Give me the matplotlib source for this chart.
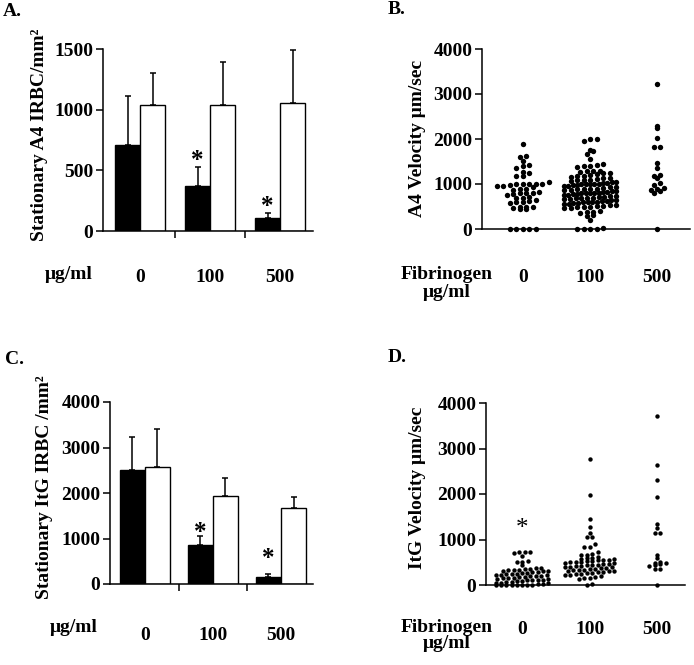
import matplotlib
matplotlib.use('Agg')
import matplotlib.pyplot as plt
import matplotlib.transforms as mtransforms
import numpy as np

plt.rcParams['font.family'] = ['Liberation Serif', 'DejaVu Serif']
plt.rcParams['font.weight'] = 'bold'
plt.rcParams['axes.linewidth'] = 1.1
FS = 14

conc_labels = ['0', '100', '500']

# Panel A: stationary A4 IRBC/mm^2 (black / white bars, upper SEM)
a_black = [705, 375, 110]
a_black_err = [410, 150, 40]
a_white = [1040, 1040, 1055]
a_white_err = [265, 350, 440]
a_star_y = [None, 617, 241]

# Panel C: stationary ItG IRBC/mm^2
c_black = [2500, 850, 160]
c_black_err = [730, 210, 70]
c_white = [2580, 1930, 1680]
c_white_err = [820, 400, 240]
c_star_y = [None, 1230, 650]

# Panel B: A4 velocity (um/sec), fibrinogen 0 / 100 / 500
b_v0 = [1900, 1620, 1610, 1510, 1420, 1410, 1350, 1270, 1250, 1180, 1170,
        1050, 1010, 1000, 1000, 990, 990, 980, 960, 950, 930, 900, 880, 860,
        820, 800, 800, 790, 770, 760, 720, 700, 690, 650, 620, 600, 590, 580,
        500, 490, 480, 470, 450, 440, 0, 0, 0, 0, 0]
b_v100 = [2000, 1990, 1960, 1760, 1740, 1670, 1560, 1440, 1430, 1400, 1390,
          1370, 1300, 1290, 1280, 1270, 1250, 1240, 1230, 1200, 1180, 1170,
          1160, 1140, 1130, 1120, 1100, 1090, 1080, 1060, 1050, 1040, 1030,
          1020, 1010, 1000, 1000, 1000, 990, 980, 970, 960, 950, 940, 930, 920,
          900, 900, 890, 880, 870, 860, 850, 840, 830, 820, 810, 800, 800, 800,
          790, 780, 770, 760, 750, 740, 730, 720, 710, 700, 700, 690, 680, 670,
          660, 650, 640, 630, 620, 610, 600, 600, 590, 580, 570, 560, 550, 540,
          530, 520, 510, 500, 490, 480, 470, 460, 390, 380, 370, 360, 310, 300,
          200, 30, 0, 0, 0, 0]
b_v500 = [3220, 2290, 2250, 2030, 1830, 1820, 1460, 1360, 1190, 1170, 1130,
          1020, 980, 920, 900, 870, 850, 800, 0]

# Panel D: ItG velocity (um/sec)
d_v0 = [730, 720, 720, 710, 630, 520, 510, 500, 430, 380, 370, 360, 350, 340,
        330, 320, 310, 300, 300, 290, 280, 270, 260, 250, 250, 240, 230, 220,
        210, 200, 200, 190, 180, 170, 160, 150, 150, 140, 130, 120, 110, 100,
        100, 90, 80, 70, 60, 50, 50, 40, 30, 20, 10, 0, 0, 0, 0, 0, 0, 0]
d_v100 = [2770, 1980, 1450, 1270, 1140, 1060, 1060, 900, 840, 840, 730, 680,
          670, 670, 620, 600, 590, 580, 570, 560, 550, 540, 530, 520, 510, 500,
          500, 490, 480, 470, 460, 450, 440, 430, 420, 410, 400, 400, 390, 380,
          370, 360, 350, 340, 330, 320, 310, 300, 300, 290, 280, 270, 260, 250,
          240, 230, 220, 200, 180, 160, 150, 140, 30, 0]
d_v500 = [3720, 2640, 2310, 1930, 1340, 1260, 1150, 1140, 670, 590, 500, 490,
          480, 470, 440, 420, 360, 350, 0]
d_star_y = [1340, None, None]

W, H = 694, 665
fig = plt.figure(figsize=(W / 100, H / 100), dpi=100)


def axes_px(left, right, top, bottom):
    return fig.add_axes([left / W, 1 - bottom / H, (right - left) / W, (bottom - top) / H])


def style(ax):
    for s in ('top', 'right'):
        ax.spines[s].set_visible(False)
    ax.tick_params(axis='y', direction='out', length=5, width=1.1, labelsize=FS, pad=2)
    for lab in ax.get_yticklabels():
        lab.set_fontweight('bold')


def star(ax, x, y, weight):
    # the asterisk glyph sits high in its text box; nudge it down so its centre is at y
    tr = mtransforms.offset_copy(ax.transData, fig=fig, x=0, y=-4.5, units='dots')
    ax.text(x, y, '*', ha='center', va='center', fontsize=FS + 4, fontweight=weight,
            transform=tr)


def bar_panel(ax, black, berr, white, werr, stars, ymax, yticks, xlim, width, pad):
    x = np.arange(len(black))
    ax.bar(x - width / 2, black, width, color='black', edgecolor='black', lw=1, zorder=2)
    ax.bar(x + width / 2, white, width, color='white', edgecolor='black', lw=1, zorder=2)
    ax.errorbar(x - width / 2, black, yerr=[np.zeros(len(x)), berr], fmt='none',
                ecolor='black', elinewidth=1.1, capsize=2.5, capthick=1.1, zorder=3)
    ax.errorbar(x + width / 2, white, yerr=[np.zeros(len(x)), werr], fmt='none',
                ecolor='black', elinewidth=1.1, capsize=2.5, capthick=1.1, zorder=3)
    for i, sy in enumerate(stars):
        if sy is not None:
            star(ax, x[i] - width / 2, sy, 'bold')
    ax.set_ylim(0, ymax)
    ax.set_xlim(*xlim)
    ax.set_yticks(yticks)
    ax.set_xticks([0.5, 1.5])
    ax.set_xticklabels([])
    ax.tick_params(axis='x', which='major', direction='out', length=5, width=1.1)
    ax.set_xticks(x, minor=True)
    ax.set_xticklabels(conc_labels, minor=True, fontsize=FS, fontweight='bold')
    ax.tick_params(axis='x', which='minor', length=0, pad=pad)
    style(ax)


def swarm_x(ax, center, values, bin_px, dx_px, max_w):
    """Row-binned dot-plot layout computed in display space via the axes transform."""
    vals = np.asarray(values, float)
    pts = ax.transData.transform(np.column_stack([np.full(len(vals), center), vals]))
    cx = pts[0, 0]
    ys = pts[:, 1]
    y0 = ax.transData.transform((center, 0))[1]
    bins = np.round((ys - y0) / bin_px).astype(int)
    offs = np.zeros(len(vals))
    for b in np.unique(bins):
        idx = np.where(bins == b)[0]
        idx = idx[np.argsort(vals[idx], kind='stable')]
        n = len(idx)
        step = dx_px if n < 2 else min(dx_px, max_w / (n - 1))
        offs[idx] = (np.arange(n) - (n - 1) / 2) * step
    disp = np.column_stack([cx + offs, ys])
    return ax.transData.inverted().transform(disp)[:, 0]


def dot_panel(ax, cols, xlim, bin_px, dx_px, max_w, msize, stars, pad):
    ax.set_ylim(0, 4000)
    ax.set_xlim(*xlim)
    for i, vals in enumerate(cols):
        xs = swarm_x(ax, i + 1, vals, bin_px, dx_px, max_w)
        ax.scatter(xs, vals, s=msize, color='black', linewidths=0, zorder=3, clip_on=False)
    for i, sy in enumerate(stars):
        if sy is not None:
            star(ax, i + 1, sy, 'normal')
    ax.set_yticks([0, 1000, 2000, 3000, 4000])
    ax.set_xticks([1, 2, 3])
    ax.set_xticklabels(conc_labels, fontsize=FS, fontweight='bold')
    ax.tick_params(axis='x', length=0, pad=pad)
    style(ax)


# Panel A
axA = axes_px(103, 313, 49, 231)
bar_panel(axA, a_black, a_black_err, a_white, a_white_err, a_star_y, 1500,
          [0, 500, 1000, 1500], (-0.53, 2.47), 0.36, 27)

# Panel C
axC = axes_px(110, 313, 402, 584)
bar_panel(axC, c_black, c_black_err, c_white, c_white_err, c_star_y, 4000,
          [0, 1000, 2000, 3000, 4000], (-0.51, 2.47), 0.37, 31)

# Panel B
axB = axes_px(482, 690, 49, 229)
dot_panel(axB, [b_v0, b_v100, b_v500], (0.39, 3.49), 4.5, 6.5, 52, 15,
          [None, None, None], 29)

# Panel D
axD = axes_px(486, 685, 403, 585)
dot_panel(axD, [d_v0, d_v100, d_v500], (0.467, 3.41), 4.0, 5.5, 52, 10, d_star_y, 26)

# y labels
fig.text(40 / W, 1 - 135 / H, 'Stationary A4 IRBC/mm\u00b2', rotation=90, ha='center',
         va='center', fontsize=FS, fontweight='bold')
fig.text(418 / W, 1 - 138 / H, 'A4 Velocity \u03bcm/sec', rotation=90, ha='center',
         va='center', fontsize=FS, fontweight='bold')
fig.text(45 / W, 1 - 487 / H, 'Stationary ItG IRBC /mm\u00b2', rotation=90, ha='center',
         va='center', fontsize=FS, fontweight='bold')
fig.text(417 / W, 1 - 488 / H, 'ItG Velocity \u03bcm/sec', rotation=90, ha='center',
         va='center', fontsize=FS, fontweight='bold')

# x-axis captions
fig.text(69 / W, 1 - 275 / H, '\u03bcg/ml', ha='center', va='center', fontsize=FS, fontweight='bold')
fig.text(74 / W, 1 - 627 / H, '\u03bcg/ml', ha='center', va='center', fontsize=FS, fontweight='bold')
fig.text(447 / W, 1 - 275 / H, 'Fibrinogen', ha='center', va='center', fontsize=FS, fontweight='bold')
fig.text(447 / W, 1 - 293 / H, '\u03bcg/ml', ha='center', va='center', fontsize=FS, fontweight='bold')
fig.text(447 / W, 1 - 627 / H, 'Fibrinogen', ha='center', va='center', fontsize=FS, fontweight='bold')
fig.text(447 / W, 1 - 643 / H, '\u03bcg/ml', ha='center', va='center', fontsize=FS, fontweight='bold')

# panel letters
for lab, (px, py) in {'A.': (3, 12), 'B.': (388, 10), 'C.': (5, 359), 'D.': (388, 358)}.items():
    fig.text(px / W, 1 - py / H, lab, ha='left', va='center', fontsize=FS, fontweight='bold')

fig.savefig('out.png', dpi=100)
